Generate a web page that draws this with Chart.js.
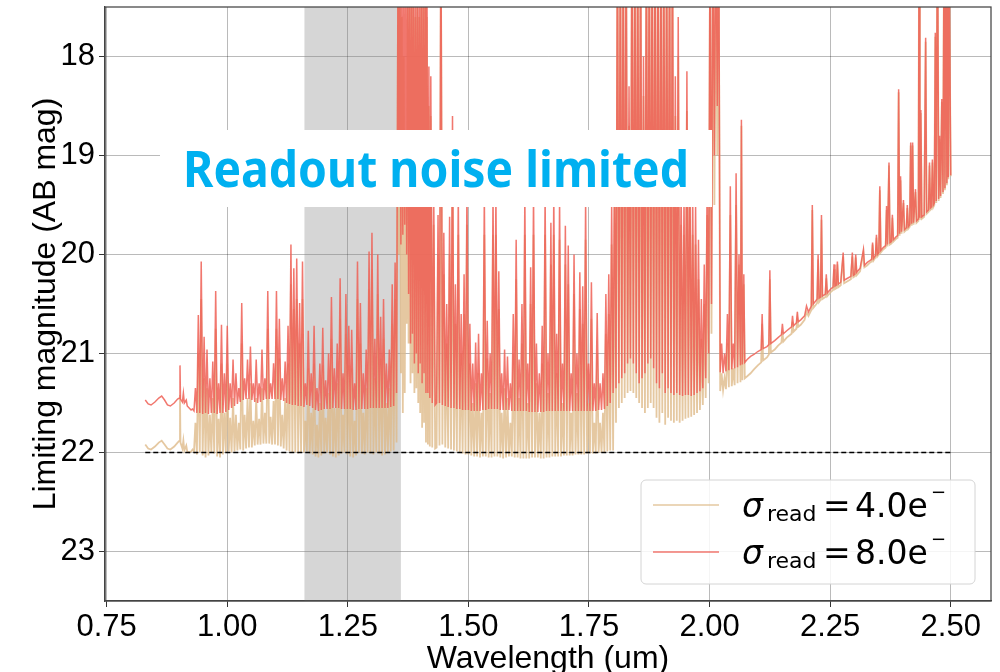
<!DOCTYPE html>
<html><head><meta charset="utf-8">
<script src="https://cdn.jsdelivr.net/npm/chart.js@4.4.1/dist/chart.umd.min.js"></script>
<style>html,body{margin:0;padding:0;background:#fff;}#wrap{width:1000px;height:672px;}</style>
</head><body><div id="wrap"><canvas id="c" width="1000" height="672"></canvas></div>
<script>
// ---- data (wavelength in um, limiting magnitude in AB mag) ----
const wlA = [0.830,0.836,0.842,0.850,0.858,0.864,0.870,0.876,0.882,0.890,0.897,0.901,0.902,0.903,0.907,0.909,0.911,0.915,0.917,0.921,0.925,0.928];
const m8A = [21.47,21.51,21.52,21.49,21.45,21.43,21.47,21.52,21.53,21.50,21.46,21.45,21.12,21.46,21.49,21.40,21.50,21.47,21.53,21.55,21.57,21.56];
const m4A = [21.92,21.96,21.97,21.94,21.90,21.88,21.92,21.96,21.97,21.94,21.90,21.88,21.42,21.90,21.96,21.88,21.98,21.93,21.99,22.00,21.99,21.97];

const wlB = [0.931,0.934,0.937,0.940,0.943,0.946,0.949,0.952,0.955,0.958,0.961,0.964,0.967,0.970,0.973,0.976,0.979,0.982,0.985,0.988,0.991,0.994,0.997,1.000,1.003,1.006,1.009,1.012,1.015,1.018,1.021,1.024,1.027,1.030,1.033,1.036,1.039,1.042,1.045,1.048,1.051,1.054,1.057,1.060,1.063,1.066,1.069,1.072,1.075,1.078,1.081,1.084,1.087,1.090,1.093,1.096,1.099,1.102,1.105,1.108,1.111,1.114,1.117,1.120,1.123,1.126,1.129,1.132,1.135,1.138,1.141,1.144,1.147,1.150,1.153,1.156,1.159];
const m8B = [21.58,21.35,21.60,20.61,21.60,20.07,21.61,20.83,21.60,20.96,
21.61,21.25,21.60,21.08,21.60,20.37,21.61,21.30,21.60,20.71,
21.60,21.20,21.59,20.72,21.57,21.30,21.55,21.06,21.53,21.20,
21.51,21.35,21.49,20.49,21.47,21.25,21.46,21.06,21.46,20.93,
21.47,21.30,21.49,21.06,21.50,21.30,21.49,20.96,21.47,21.25,
21.46,20.37,21.46,21.30,21.46,21.10,21.46,20.37,21.46,20.65,
21.47,21.25,21.48,21.08,21.50,20.72,21.51,19.90,21.52,20.14,
21.52,20.04,21.53,20.49,21.53,20.07,21.54];
const m4B = [21.99,21.70,22.02,21.00,22.00,20.45,22.03,21.25,22.05,21.35,
22.03,21.62,22.00,21.45,22.01,20.75,22.04,21.66,22.05,21.10,
22.02,21.60,22.00,21.10,21.99,21.65,22.00,21.45,21.99,21.62,
21.98,21.70,21.97,20.90,21.98,21.62,21.96,21.45,21.95,21.30,
21.95,21.68,21.93,21.45,21.92,21.66,21.92,21.35,21.91,21.60,
21.91,20.75,21.91,21.64,21.92,21.48,21.92,20.75,21.93,21.05,
21.94,21.62,21.96,21.45,21.98,21.10,21.99,20.30,22.00,20.55,
22.00,20.45,22.01,20.90,22.00,20.45,22.00];

const wlC = [1.162,1.165,1.168,1.171,1.174,1.177,1.180,1.183,1.186,1.189,1.192,1.195,1.198,1.201,1.204,1.207,1.210,1.213,1.216,1.219,1.222,1.225,1.228,1.231,1.234,1.237,1.240,1.243,1.246,1.249,1.252,1.255,1.258,1.261,1.264,1.267,1.270,1.273,1.276,1.279,1.282,1.285,1.288,1.291,1.294,1.297,1.300,1.303,1.306,1.309,1.312,1.315,1.318,1.321,1.324,1.327,1.330,1.333,1.336,1.339,1.342,1.345,1.348,1.351];
const m8C = [21.30,21.52,20.77,21.53,21.20,21.55,20.72,21.57,21.35,21.58,
21.10,21.57,20.74,21.56,21.27,21.56,21.00,21.56,20.43,21.55,
21.15,21.55,20.90,21.55,20.24,21.56,21.20,21.56,20.40,21.56,
20.72,21.56,20.76,21.57,21.30,21.57,20.07,21.56,20.49,21.56,
21.20,21.56,20.96,21.56,19.97,21.55,19.78,21.55,20.85,21.55,
20.00,21.55,20.63,21.55,20.45,21.55,21.10,21.55,20.96,21.54,
20.30,21.53,20.08,21.40];
const m4C = [21.68,21.99,21.15,22.01,21.60,22.02,21.10,22.04,21.72,22.05,
21.50,22.03,21.12,22.01,21.65,22.00,21.40,22.02,20.85,22.04,
21.55,22.05,21.30,22.03,20.65,22.01,21.62,22.00,20.80,22.02,
21.12,22.04,21.15,22.05,21.68,22.03,20.45,22.00,20.90,22.01,
21.60,22.02,21.35,22.00,20.35,22.01,20.15,22.02,21.25,22.00,
20.40,22.01,21.05,22.03,20.85,22.02,21.50,22.00,21.35,21.99,
20.70,21.98,20.45,21.90];

const wlD = [1.354,1.356,1.358,1.360,1.362,1.364,1.366,1.368,1.370,1.372,1.374,1.376,1.378,1.380,1.382,1.384,1.386,1.388,1.390,1.392,1.394,1.396,1.398,1.400,1.402,1.404,1.406,1.408,1.410,1.412,1.414,1.416,1.418,1.420,1.422,1.425,1.428,1.431];
const m8D = [17.0,19.5,17.0,19.9,17.0,19.8,17.0,19.7,17.0,20.0,17.0,20.4,17.0,20.9,17.0,20.8,17.0,21.1,17.2,21.0,17.0,21.2,17.0,21.1,17.0,21.3,17.0,21.2,17.0,21.4,17.0,21.4,18.1,21.45,18.2,21.5,19.3,21.52];
const m4D = [17.3,20.0,17.3,21.2,17.6,21.6,18.0,21.4,19.0,20.7,17.5,20.9,17.5,21.3,17.4,21.2,17.4,21.4,17.6,21.35,17.5,21.5,17.6,21.6,17.5,21.75,17.5,21.7,17.5,21.9,17.6,21.92,18.5,21.94,18.6,21.95,19.7,21.96];

const wlE = [1.434,1.437,1.440,1.443,1.446,1.449,1.452,1.455,1.458,1.461,
1.464,1.467,1.470,1.473,1.476,1.479,1.482,1.485,1.488,1.491,
1.494,1.497,1.500,1.503,1.506,1.509,1.512,1.515,1.518,1.521,
1.524,1.527,1.530,1.533,1.536,1.539,1.542,1.545,1.548,1.551,
1.554,1.557,1.560,1.563,1.566,1.569,1.572,1.575,1.578,1.581,
1.584,1.587,1.590,1.593,1.596,1.599,1.602,1.605,1.608,1.611,
1.614,1.617,1.620,1.623,1.626,1.629,1.632,1.635,1.638,1.641,
1.644,1.647,1.650,1.653,1.656,1.659,1.662,1.665,1.668,1.671,
1.674,1.677,1.680,1.683,1.686,1.689,1.692,1.695,1.698,1.701,
1.704,1.707,1.710,1.713,1.716,1.719,1.722,1.725,1.728,1.731,
1.734,1.737,1.740,1.743,1.746,1.749,1.752,1.755,1.758,1.761,
1.764,1.767,1.770,1.773,1.776,1.779,1.782,1.785,1.788,1.791,
1.794,1.797,1.800];
const m8E = [21.50,19.60,21.50,16.50,21.52,19.78,21.53,20.50,21.54,19.62,
21.55,18.60,21.55,20.30,21.56,19.40,21.56,20.60,21.57,20.20,
21.57,19.30,21.57,20.70,21.58,21.10,21.58,20.89,21.58,20.80,
21.58,21.20,21.57,19.40,21.57,20.67,21.56,21.00,21.56,19.40,
21.56,19.40,21.56,20.17,21.57,21.20,21.57,20.96,21.57,21.03,
21.57,21.30,21.58,20.60,21.58,19.85,21.58,21.06,21.58,20.50,
21.58,19.40,21.58,21.10,21.59,20.13,21.59,19.40,21.59,20.90,
21.59,21.20,21.59,20.72,21.59,19.40,21.58,21.00,21.58,19.68,
21.58,19.40,21.58,20.80,21.58,19.45,21.58,21.10,21.58,19.71,
21.58,19.91,21.58,21.20,21.58,20.00,21.58,21.00,21.58,20.18,
21.58,20.32,21.58,19.45,21.58,21.10,21.58,20.28,21.58,21.30,
21.58,20.59,21.57,21.30,21.57,21.20,21.56,20.40,21.53,20.20,
21.50,19.50,21.40];
const m4E = [21.95,20.00,21.93,16.90,21.92,20.20,21.95,20.90,21.96,20.00,
21.97,19.00,21.98,20.70,21.99,19.80,22.00,21.00,22.01,20.60,
22.02,19.70,22.02,21.10,22.03,21.50,22.04,21.30,22.04,21.20,
22.05,21.60,22.04,19.80,22.04,21.05,22.05,21.40,22.05,19.80,
22.04,19.80,22.04,20.55,22.05,21.60,22.06,21.35,22.05,21.45,
22.04,21.70,22.04,21.00,22.05,20.25,22.05,21.45,22.06,20.90,
22.06,19.80,22.06,21.50,22.06,20.50,22.05,19.80,22.05,21.30,
22.05,21.60,22.06,21.10,22.06,19.80,22.05,21.40,22.05,20.10,
22.04,19.80,22.04,21.20,22.04,19.85,22.04,21.50,22.03,20.10,
22.03,20.30,22.03,21.60,22.03,20.40,22.02,21.40,22.02,20.55,
22.02,20.70,22.02,19.85,22.01,21.50,22.01,20.65,22.01,21.70,
22.01,21.00,22.00,21.70,22.00,21.60,22.00,20.80,21.99,20.60,
21.98,19.90,21.98];

const wlF = [1.803,1.806,1.809,1.812,1.815,1.818,1.821,1.824,1.827,1.830,
1.833,1.836,1.839,1.842,1.845,1.848,1.851,1.854,1.857,1.860,
1.863,1.866,1.869,1.872,1.875,1.878,1.881,1.884,1.887,1.890,
1.893,1.896,1.899,1.902,1.905,1.908,1.911,1.914,1.917,1.920,
1.923,1.926,1.929,1.932,1.935,1.938,1.941,1.944,1.947,1.950,
1.953,1.956,1.959,1.962,1.965,1.968,1.971,1.974,1.977,1.980,
1.983,1.986,1.989,1.992,1.995,1.998,2.001,2.004,2.007,2.010,
2.013,2.016,2.019,2.022,2.025,2.028,2.031,2.034,2.037,2.040,
2.043,2.046,2.049,2.052,2.055,2.058];
const m8F = [19.00,21.35,16.50,21.30,16.50,21.25,16.50,21.20,16.50,21.10,
18.30,21.05,16.50,21.10,16.50,21.20,16.50,21.30,16.50,21.25,
18.00,21.20,16.50,21.10,16.50,21.05,16.50,21.15,16.50,21.30,
16.50,21.35,16.50,21.20,16.50,21.40,16.50,21.35,16.50,21.40,
16.50,21.42,18.20,21.40,17.60,21.42,19.30,21.43,19.40,21.42,
18.15,21.42,18.90,21.43,19.40,21.42,19.50,21.40,19.85,21.38,
20.45,21.35,20.10,21.25,19.20,21.00,16.50,20.50,16.50,19.00,
16.50,18.50,16.50,21.19,20.90,21.20,21.00,21.18,20.60,21.17,
19.31,21.16,20.90,21.15,19.18,21.14];
const m4F = [19.40,21.70,16.90,21.55,16.90,21.50,16.90,21.45,16.90,21.40,
18.70,21.38,16.90,21.40,16.90,21.45,16.90,21.50,16.90,21.55,
18.40,21.60,16.90,21.55,16.90,21.50,16.90,21.55,16.90,21.65,
16.90,21.70,16.90,21.60,16.90,21.72,16.90,21.65,16.90,21.68,
16.90,21.70,18.60,21.68,18.00,21.70,19.70,21.68,19.80,21.66,
18.55,21.65,19.30,21.64,19.80,21.62,19.90,21.60,20.25,21.57,
20.85,21.52,20.50,21.45,19.60,21.30,16.90,20.80,16.90,19.50,
16.90,19.00,16.90,21.38,21.20,21.37,21.25,21.36,20.90,21.34,
19.60,21.33,21.15,21.32,19.50,21.30];

const wlG = [2.061,2.064,2.066,2.068,2.071,2.073,2.078,2.085,2.092,2.100,
2.107,2.109,2.111,2.119,2.123,2.125,2.127,2.135,2.142,2.149,
2.151,2.153,2.160,2.170,2.172,2.174,2.180,2.182,2.184,2.189,
2.197,2.201,2.205,2.211,2.213,2.215,2.220,2.223,2.225,2.227,
2.230,2.232,2.234,2.240,2.242,2.244,2.251,2.256,2.258,2.260,
2.263,2.265,2.267,2.272,2.277,2.279,2.286,2.293,2.296,2.298,
2.301,2.303,2.305,2.312,2.319,2.321,2.327,2.333,2.336,2.338,
2.340,2.344,2.346,2.348,2.351,2.353,2.355,2.360,2.365,2.367,
2.369,2.372,2.374,2.377,2.379,2.381,2.387,2.390,2.392,2.394,
2.396,2.398,2.402,2.404,2.408,2.410,2.412,2.415,2.417,2.419,
2.421,2.423,2.427,2.429,2.433,2.4345,2.436,2.438,2.440,2.445,
2.448,2.450,2.454,2.456,2.458,2.460,2.462,2.464,2.466,2.468,
2.470,2.4725,2.475,2.477,2.479,2.4815,2.484,2.4864,2.488,2.4905,
2.492,2.4933,2.495,2.4967,2.500];
const m8G = [20.00,21.12,18.64,21.11,20.20,21.09,21.06,21.03,21.01,20.98,
20.96,20.60,20.95,20.93,20.91,20.16,20.90,20.87,20.84,20.81,
20.70,20.80,20.77,20.73,20.62,20.72,20.69,20.58,20.68,20.66,
20.62,20.52,20.58,20.52,19.50,20.50,20.47,20.45,20.00,20.44,
20.43,19.60,20.42,20.40,20.20,20.39,20.35,20.33,20.10,20.32,
20.31,20.07,20.30,20.28,19.98,20.26,20.24,20.22,19.98,20.21,
20.20,20.00,20.18,20.14,19.95,20.11,20.08,20.06,20.05,19.88,
20.04,20.01,19.80,20.00,19.98,19.31,19.96,19.93,19.91,19.51,
19.90,19.07,19.88,19.87,19.60,19.85,19.82,19.81,18.33,19.79,
19.21,19.77,19.45,19.75,19.73,19.50,19.72,19.70,18.87,19.69,
18.87,19.68,19.34,19.66,19.64,16.50,19.63,18.54,19.62,19.60,
17.81,19.57,19.55,19.07,19.53,19.52,19.04,19.50,19.48,17.76,
19.46,16.50,19.44,18.80,19.41,18.43,19.37,16.50,19.33,16.50,
19.28,16.50,19.22,17.00,19.20];
const m4G = [20.10,21.29,18.70,21.27,20.30,21.25,21.23,21.20,21.16,21.12,
21.09,20.70,21.07,21.04,21.01,20.25,20.99,20.96,20.92,20.89,
20.78,20.88,20.84,20.80,20.68,20.78,20.75,20.65,20.73,20.71,
20.66,20.58,20.62,20.56,19.55,20.54,20.51,20.49,20.05,20.48,
20.46,19.65,20.45,20.43,20.24,20.42,20.38,20.36,20.15,20.35,
20.34,20.10,20.33,20.31,20.02,20.29,20.27,20.25,20.02,20.23,
20.22,20.03,20.21,20.17,19.98,20.13,20.11,20.08,20.07,19.90,
20.06,20.03,19.83,20.02,20.00,19.35,19.98,19.95,19.93,19.55,
19.92,19.10,19.90,19.89,19.63,19.87,19.84,19.83,18.36,19.81,
19.25,19.79,19.48,19.77,19.75,19.53,19.74,19.72,18.90,19.71,
18.90,19.70,19.37,19.68,19.66,16.55,19.65,18.57,19.64,19.62,
17.85,19.59,19.57,19.10,19.55,19.54,19.07,19.52,19.50,17.80,
19.48,16.55,19.46,18.83,19.43,18.46,19.39,16.55,19.35,16.55,
19.30,16.55,19.24,17.05,19.21];

const wavelength = [].concat(wlA, wlB, wlC, wlD, wlE, wlF, wlG);
const magRead4 = [].concat(m4A, m4B, m4C, m4D, m4E, m4F, m4G);
const magRead8 = [].concat(m8A, m8B, m8C, m8D, m8E, m8F, m8G);

const limitWl = [0.83, 2.50];
const limitMag = [22, 22];
const bandWl = [1.16, 1.36];
const xTickValues = [0.75, 1.00, 1.25, 1.50, 1.75, 2.00, 2.25, 2.50];
const yTickValues = [18, 19, 20, 21, 22, 23];
const legendValues = ['4.0', '8.0'];
const annotationText = 'Readout noise limited';

// ---- chart ----
const RED = 'rgba(238,95,85,0.85)';
const TAN = 'rgba(222,184,135,0.78)';

function pts(xs, ys) { return xs.map((x, i) => ({x: x, y: ys[i]})); }

const bandPlugin = {
  id: 'band',
  beforeDatasetsDraw(chart) {
    const {ctx, chartArea: a, scales: {x}} = chart;
    const x0 = x.getPixelForValue(bandWl[0]), x1 = x.getPixelForValue(bandWl[1]);
    ctx.save();
    ctx.fillStyle = 'rgba(128,128,128,0.32)';
    ctx.fillRect(x0, a.top, x1 - x0, a.bottom - a.top);
    ctx.restore();
  }
};

const notePlugin = {
  id: 'note',
  afterDatasetsDraw(chart) {
    const {ctx} = chart;
    ctx.save();
    ctx.fillStyle = '#ffffff';
    ctx.fillRect(160, 130, 552, 77);
    ctx.font = 'bold 50px "Noto Sans", "Open Sans", sans-serif';
    const w = ctx.measureText(annotationText).width;
    ctx.translate(183, 187);
    ctx.scale(506 / w, 1);
    ctx.fillStyle = '#00b0f0';
    ctx.textBaseline = 'alphabetic';
    ctx.fillText(annotationText, 0, 0);
    ctx.restore();
  }
};

const framePlugin = {
  id: 'frame',
  afterDraw(chart) {
    const {ctx, chartArea: a} = chart;
    ctx.save();
    ctx.strokeStyle = '#444';
    ctx.lineWidth = 1.25;
    ctx.strokeRect(a.left, a.top, a.right - a.left, a.bottom - a.top);
    ctx.restore();

    // legend
    ctx.save();
    ctx.beginPath();
    ctx.roundRect(641, 480, 334, 104, 5);
    ctx.fillStyle = 'rgba(255,255,255,0.85)';
    ctx.fill();
    ctx.strokeStyle = '#d4d4d4';
    ctx.lineWidth = 1;
    ctx.stroke();
    const colors = [TAN, RED];
    const lineY = [505, 552];
    const base = [517, 564];
    for (let i = 0; i < 2; i++) {
      ctx.beginPath();
      ctx.strokeStyle = colors[i];
      ctx.lineWidth = 1.5;
      ctx.moveTo(653, lineY[i]);
      ctx.lineTo(719, lineY[i]);
      ctx.stroke();
      ctx.fillStyle = '#000';
      ctx.textBaseline = 'alphabetic';
      ctx.textAlign = 'left';
      ctx.font = 'italic 33px "DejaVu Sans"';
      ctx.fillText('σ', 742, base[i]);
      ctx.font = '22px "DejaVu Sans"';
      ctx.fillText('read', 767, base[i] + 4);
      ctx.font = '33px "DejaVu Sans"';
      ctx.fillText('=', 823, base[i]);
      ctx.fillText(legendValues[i] + 'e', 855, base[i]);
      ctx.font = '18px "DejaVu Sans"';
      ctx.fillText('−', 931, base[i] - 19);
    }
    ctx.restore();
  }
};

const tickFont = {family: '"Liberation Sans", Arial, sans-serif', size: 31};
const titleFont = {family: '"Liberation Sans", Arial, sans-serif', size: 32, lineHeight: 1.2};

new Chart(document.getElementById('c'), {
  type: 'line',
  data: {
    datasets: [
      {label: 'limit', data: pts(limitWl, limitMag), borderColor: '#000', borderWidth: 1.5, borderDash: [5, 3], pointRadius: 0, order: 0},
      {label: 'σread = 8.0e−', data: pts(wavelength, magRead8), borderColor: RED, borderWidth: 1.5, pointRadius: 0, order: 1},
      {label: 'σread = 4.0e−', data: pts(wavelength, magRead4), borderColor: TAN, borderWidth: 1.8, pointRadius: 0, order: 2}
    ]
  },
  options: {
    responsive: false,
    animation: false,
    devicePixelRatio: 1,
    parsing: false,
    events: [],
    layout: {padding: {top: 7, right: 9, left: 0, bottom: 0}},
    elements: {line: {tension: 0, fill: false}},
    plugins: {legend: {display: false}, tooltip: {enabled: false}},
    scales: {
      x: {
        type: 'linear', min: 0.7465, max: 2.5835,
        afterBuildTicks: s => { s.ticks = xTickValues.map(v => ({value: v})); },
        afterFit: s => { s.height = 71; s.paddingLeft = 0; s.paddingRight = 0; },
        ticks: {font: tickFont, color: '#000', padding: 2, maxRotation: 0, autoSkip: false, callback: v => Number(v).toFixed(2)},
        grid: {color: 'rgba(0,0,0,0.27)', lineWidth: 1, tickColor: '#333', tickLength: 6},
        border: {color: '#444', width: 1.25},
        title: {display: true, text: 'Wavelength (um)', font: titleFont, color: '#000', padding: {top: 0, bottom: -6}}
      },
      y: {
        type: 'linear', reverse: true, min: 17.5, max: 23.5,
        afterBuildTicks: s => { s.ticks = yTickValues.map(v => ({value: v})); },
        afterFit: s => { s.width = 105; s.paddingTop = 0; s.paddingBottom = 0; },
        ticks: {font: tickFont, color: '#000', padding: 4, callback: v => String(v)},
        grid: {color: 'rgba(0,0,0,0.27)', lineWidth: 1, tickColor: '#333', tickLength: 6},
        border: {color: '#444', width: 1.25},
        title: {display: true, text: 'Limiting magnitude (AB mag)', font: titleFont, color: '#000', padding: {top: 27, bottom: 0}}
      }
    }
  },
  plugins: [bandPlugin, notePlugin, framePlugin]
});
</script>
</body></html>
